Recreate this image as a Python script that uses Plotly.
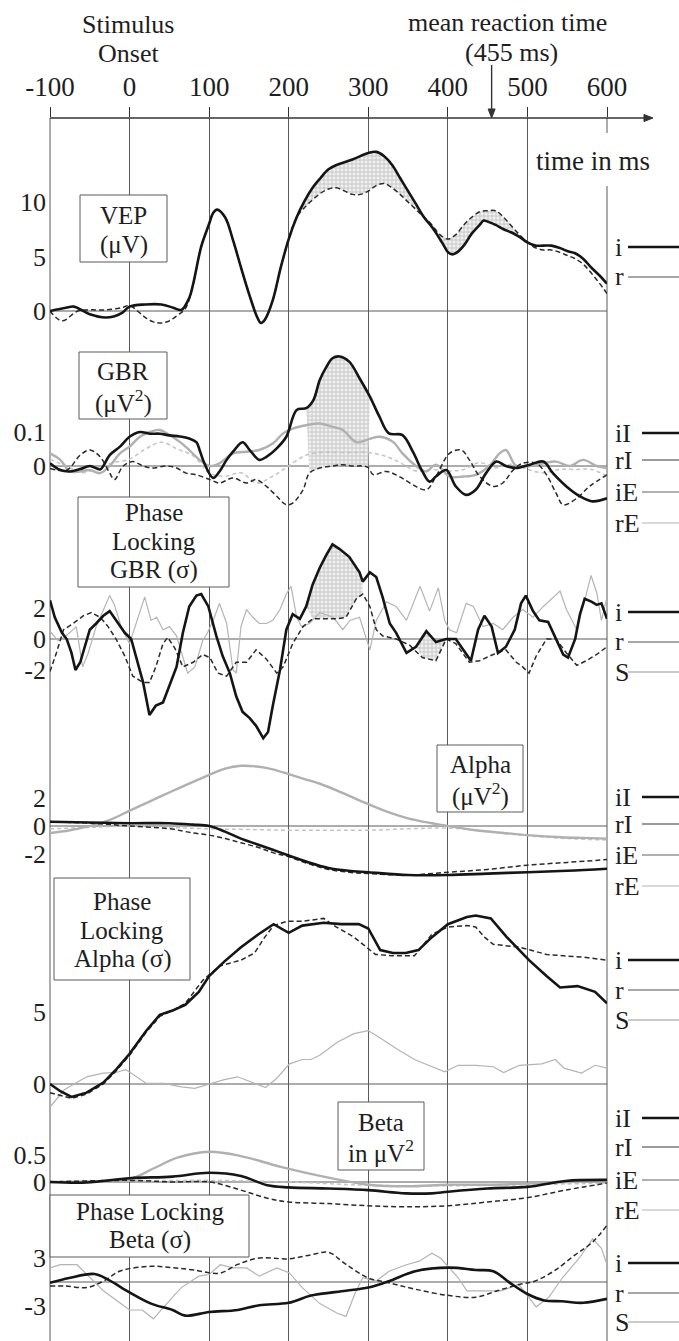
import plotly.graph_objects as go

# ======================= DATA =======================
time_ticks = [-100, 0, 100, 200, 300, 400, 500, 600]
time_tick_text = ["-100", "0", "100", "200", "300", "400", "500", "600"]
mean_rt = 455

# --- VEP (uV) ---
vep_i_t = [-100,-80,-70,-50,-30,-20,-10,0,20,40,55,65,75,80,90,100,105,110,120,130,
           140,150,160,165,170,180,190,200,210,220,230,240,250,260,280,300,310,320,330,340,
           350,360,370,380,390,395,400,405,410,420,430,440,445,450,460,470,480,490,500,510,
           520,530,540,550,560,570,580,590,600]
vep_i_v = [0,0.3,0.4,-0.3,-0.6,-0.5,-0.2,0.4,0.6,0.6,0.3,0.1,1.2,2.5,5.9,8.0,9.0,9.3,8.6,6.5,
           4.0,1.6,-0.5,-1.1,-0.8,1.0,4.0,6.6,8.6,10.1,11.3,12.2,13.0,13.4,13.9,14.5,14.6,14.2,13.4,12.2,
           11.0,9.8,8.6,7.7,6.6,6.0,5.4,5.2,5.3,6.0,7.1,7.9,8.3,8.2,7.9,7.5,7.2,6.8,6.3,6.0,
           6.0,6.0,5.8,5.5,5.3,4.8,4.0,3.3,2.5]
vep_r_t = [-100,-85,-65,-50,-30,-10,0,10,20,30,40,50,60,70,80,90,100,105,110,120,
           130,140,150,160,165,170,180,190,200,210,220,230,240,250,260,280,290,300,310,320,
           330,340,350,360,370,380,390,400,410,420,430,440,450,460,470,480,490,500,510,520,
           530,540,550,560,570,580,590,600]
vep_r_v = [0,-0.9,0,0.1,0.1,0.3,0.5,0.0,-0.6,-1.0,-1.1,-0.9,-0.4,0.2,2.5,5.9,8.0,9.0,9.3,8.6,
           6.5,4.0,1.6,-0.5,-1.1,-0.8,1.0,4.0,6.6,8.6,9.5,10.2,10.8,11.2,11.3,10.7,10.7,11.0,11.5,11.7,
           11.3,10.7,10.0,9.3,8.6,7.9,7.0,6.6,7.0,7.9,8.6,9.1,9.2,9.2,8.6,7.8,7.0,6.3,5.8,5.6,
           5.6,5.4,5.1,4.8,4.3,3.5,2.6,1.6]
vep_bands = [(210, 370), (370, 500)]

# --- GBR (uV^2) ---
gbr_iI_t = [-100,-87,-75,-62,-50,-37,-33,-25,-12,0,13,25,38,50,63,75,84,88,94,105,
            113,122,130,142,151,163,172,185,197,210,222,231,239,247,255,264,276,289,302,314,
            326,343,356,368,377,385,398,410,423,435,448,461,473,486,503,520,532,549,566,582,600]
gbr_iI_v = [0.008,-0.012,-0.016,-0.009,0,-0.01,0,0.032,0.057,0.086,0.1,0.095,0.095,0.09,0.087,0.081,0.07,0.047,0.008,-0.035,
            -0.016,0.018,0.042,0.07,0.047,0.018,0.027,0.052,0.086,0.165,0.17,0.194,0.253,0.29,0.317,0.322,0.307,0.258,0.204,0.145,
            0.096,0.091,0.042,-0.016,-0.046,-0.031,-0.012,-0.06,-0.085,-0.07,-0.021,0.013,0,-0.006,0.004,0.013,-0.021,-0.06,-0.089,-0.104,-0.095]
gbr_rI_t = [-100,-79,-62,-50,-37,-25,-19,-8,4,17,29,46,59,71,84,101,113,130,147,159,
            172,185,197,205,218,226,239,255,268,281,293,300,306,323,339,356,373,385,402,417,
            427,440,457,469,482,494,511,524,536,545,562,578,600]
gbr_rI_v = [-0.007,-0.012,0.032,0.047,0.027,-0.021,-0.04,0,0.013,0,-0.006,0,-0.006,-0.021,-0.026,-0.04,-0.05,-0.035,-0.05,-0.04,
            -0.06,-0.089,-0.114,-0.109,-0.07,-0.021,-0.006,0,0.004,0.0,0.0,-0.005,-0.025,-0.016,-0.031,-0.055,-0.07,-0.031,0.037,0.047,
            0.018,-0.031,-0.06,-0.05,-0.012,0.008,0.008,-0.026,-0.08,-0.114,-0.095,-0.06,-0.026]
gbr_iE_t = [-100,-87,-75,-62,-50,-37,-25,-12,0,13,25,38,50,63,75,88,101,113,130,147,
            163,180,193,205,222,239,255,268,285,302,314,331,343,360,373,385,402,419,435,452,
            465,473,486,503,520,536,553,570,587,600]
gbr_iE_v = [0.037,0.018,-0.016,-0.016,-0.012,-0.021,0,0.037,0.057,0.086,0.1,0.106,0.091,0.071,0.047,0.018,0,0.008,0.037,0.042,
            0.047,0.066,0.096,0.11,0.12,0.125,0.115,0.106,0.07,0.08,0.086,0.071,0.037,0,-0.016,0.004,-0.031,-0.031,-0.026,0,
            0.037,0.047,0,0,0.008,0.013,0,0.018,0,-0.006]
gbr_rE_t = [-100,-80,-60,-40,-20,0,20,40,60,80,100,120,140,160,180,200,220,240,260,280,
            300,320,340,360,380,400,420,440,460,480,500,520,540,560,580,600]
gbr_rE_v = [0.02,0.0,-0.02,-0.005,0.01,0.02,0.05,0.07,0.05,0.03,-0.02,-0.03,-0.02,-0.05,-0.03,0.0,0.03,0.04,0.04,0.04,
            0.04,0.03,0.01,-0.015,-0.01,-0.015,-0.01,0.01,-0.005,0.005,-0.01,-0.02,-0.01,-0.01,-0.01,-0.03]
gbr_bands = [(222, 302)]

# --- Phase locking GBR (sigma) ---
plg_i_t = [-100,-94,-85,-79,-73,-68,-62,-56,-50,-42,-33,-25,-17,-6,2,8,17,25,33,42,
           50,59,67,75,84,90,99,109,117,126,134,142,151,159,168,174,180,189,197,205,
           214,222,230,239,247,255,264,276,289,293,302,310,318,327,335,348,360,373,385,398,
           410,419,429,438,446,455,463,473,484,492,498,507,515,526,536,545,551,560,566,572,
           581,587,593,600]
plg_i_v = [2.5,1.4,0.4,0,-0.9,-2.0,-1.5,-0.5,0.6,1.0,1.5,1.8,1.2,0.4,0,-1.1,-2.8,-4.9,-4.3,-4.1,
           -3.0,-1.8,0.4,2.1,2.8,2.9,2.1,0.2,-1.1,-2.2,-3.7,-4.7,-5.1,-5.6,-6.4,-6.0,-4.3,-2.0,0.6,1.6,
           1.3,2.1,3.5,4.6,5.4,6.1,5.8,5.3,4.3,3.7,4.3,4.0,2.7,1.0,0.4,-0.9,-0.5,0.5,-0.2,0,
           0,-0.7,-1.4,0.6,1.5,0.8,-0.9,-0.5,0.6,2.3,2.8,1.8,1.2,1.1,0,-1.0,-1.2,0,1.6,2.6,
           2.4,2.2,2.3,1.3]
plg_r_t = [-100,-92,-83,-71,-58,-48,-37,-27,-17,-6,4,17,25,33,42,48,57,67,80,92,
           101,111,122,134,147,159,172,185,193,205,218,230,247,260,272,285,293,302,310,318,
           335,352,368,385,398,410,427,440,457,473,486,494,502,511,524,536,549,562,574,587,600]
plg_r_v = [-2.1,-0.9,0.6,1.0,1.5,1.7,1.4,0.8,0,-1.1,-2.4,-2.8,-2.8,-1.8,-0.3,0.1,-0.6,-1.8,-1.5,-1.0,
           -1.2,-2.2,-2.4,-1.5,-1.5,-0.7,-1.3,-2.2,-1.8,-0.3,0.8,1.3,1.3,1.3,1.4,2.6,2.9,2.1,0.6,0.2,
           0,-0.4,-1.2,-1.4,0,-0.3,-1.5,-1.4,-1.0,-0.7,-1.5,-1.8,-2.2,-1.1,0,0,-0.9,-1.7,-1.4,-1.0,-0.5]
plg_S_t = [-100,-90,-80,-67,-59,-52,-42,-34,-25,-19,-10,0,8,19,27,34,42,50,59,65,
           73,82,92,98,105,113,122,130,134,140,147,155,163,172,180,189,197,203,210,216,
           226,239,256,268,277,289,302,310,323,335,348,365,373,377,388,396,402,411,423,432,
           444,457,469,482,494,507,520,528,541,549,562,570,580,587,593,600]
plg_S_v = [0.5,-0.1,0.2,0.8,-1.8,-0.9,0.8,1.7,2.8,2.2,0.7,-0.3,1.0,2.7,1.2,1.4,0.6,0.8,0.2,-0.9,
           -2.2,-1.8,-0.1,0.4,1.2,2.3,1.0,-2.0,-2.2,0.8,1.9,1.4,1.0,1.0,1.2,1.9,2.9,3.4,1.4,0.8,
           1.0,1.7,1.4,0.6,1.2,1.4,-0.7,1.2,2.4,2.1,1.2,3.4,2.3,1.8,3.3,1.2,0.6,0.4,2.3,2.1,
           0.8,1.0,0.6,1.4,1.9,1.4,2.1,2.5,3.1,1.9,0.6,2.1,4.1,3.0,1.2,2.7]
plg_bands = [(222, 296), (356, 400)]

# --- Alpha power (uV^2) ---
alp_iI_t = [-100,-50,0,50,80,100,120,140,160,180,200,225,250,275,300,350,400,450,500,550,600]
alp_iI_v = [0.3,0.25,0.2,0.2,0.1,0.0,-0.4,-0.9,-1.3,-1.7,-2.1,-2.6,-3.0,-3.2,-3.3,-3.5,-3.5,-3.4,-3.3,-3.2,-3.05]
alp_rI_t = [-100,-50,0,50,80,100,120,140,160,180,200,225,250,275,300,350,400,450,500,550,600]
alp_rI_v = [0.3,0.2,0.0,-0.2,-0.5,-0.65,-0.9,-1.2,-1.5,-1.9,-2.2,-2.7,-3.1,-3.3,-3.4,-3.5,-3.3,-3.1,-2.8,-2.6,-2.4]
alp_iE_t = [-100,-75,-43,-22,0,27,54,82,100,120,140,160,180,200,220,240,266,290,320,350,
            380,400,435,470,500,543,570,600]
alp_iE_v = [-0.5,-0.3,0.1,0.5,1.1,1.8,2.5,3.2,3.65,4.1,4.3,4.25,4.05,3.7,3.35,3.0,2.4,1.8,1.1,0.55,
            0.2,0.0,-0.3,-0.5,-0.65,-0.8,-0.85,-0.9]
alp_rE_t = [-100,-50,0,50,100,150,200,250,300,350,400,450,500,550,600]
alp_rE_v = [-0.2,-0.1,0.0,-0.1,-0.2,-0.25,-0.3,-0.3,-0.3,-0.2,-0.15,-0.4,-0.7,-0.9,-1.0]

# --- Phase locking alpha (sigma) ---
pla_i_t = [-100,-87,-73,-54,-33,-17,0,21,38,54,70,87,100,119,140,162,181,200,217,244,
           266,288,300,315,331,347,363,380,400,424,435,454,474,502,524,541,563,585,600]
pla_i_v = [0,-0.5,-0.9,-0.6,0.1,1.0,2.1,3.7,4.8,5.1,5.5,6.4,7.5,8.5,9.5,10.4,11.1,10.5,11.0,11.2,
           11.1,11.1,10.8,9.3,9.1,9.1,9.3,10.2,11.1,11.6,11.7,11.5,10.2,8.6,7.5,6.7,6.8,6.4,5.6]
pla_r_t = [-100,-87,-73,-54,-33,-17,0,21,38,54,70,92,113,140,157,170,181,198,217,244,
           260,282,298,309,330,358,380,400,424,435,446,457,490,524,545,571,600]
pla_r_v = [-0.6,-0.8,-1.0,-0.7,0.0,0.9,2.0,3.6,4.7,5.1,5.6,7.2,8.2,8.6,9.1,10.2,11.0,11.3,11.3,11.5,
           10.9,10.2,9.5,9.0,8.9,8.9,10.4,10.9,11.0,10.9,10.2,9.7,9.5,9.0,8.9,8.8,8.6]
pla_S_t = [-100,-82,-54,-33,-17,-5,6,21,43,65,82,100,119,136,152,171,185,201,217,228,
           239,261,282,300,315,337,358,380,396,413,435,457,470,490,518,535,546,568,585,600]
pla_S_v = [-1.6,-0.4,0.5,0.76,0.8,1.0,0.6,0.04,0.04,-0.2,-0.3,0,0.3,0.5,0.15,-0.24,0.4,1.4,1.7,1.7,
           2.0,2.9,3.5,3.7,3.2,2.4,1.7,1.2,0.85,1.3,1.3,1.2,0.8,1.3,1.4,1.7,1.1,0.76,1.3,1.1]

# --- Beta power (uV^2) ---
bet_iI_t = [-100,-54,0,54,100,140,173,200,250,300,347,380,400,450,500,548,600]
bet_iI_v = [0.0,-0.01,0.07,0.1,0.17,0.11,-0.06,-0.1,-0.12,-0.15,-0.21,-0.21,-0.18,-0.12,-0.09,0.02,0.04]
bet_rI_t = [-100,0,54,100,140,173,200,250,300,347,400,450,500,548,600]
bet_rI_v = [0.0,0.03,0.0,0.0,-0.15,-0.3,-0.37,-0.4,-0.44,-0.46,-0.44,-0.37,-0.29,-0.15,-0.02]
bet_iE_t = [-100,-54,0,30,60,100,140,190,250,300,350,400,450,500,550,600]
bet_iE_v = [0.0,0.01,0.05,0.25,0.45,0.56,0.48,0.28,0.08,-0.05,-0.08,-0.05,-0.05,-0.03,0.0,0.01]
bet_rE_t = [-100,0,100,200,300,400,500,600]
bet_rE_v = [0.0,0.02,0.03,0.0,-0.06,-0.07,-0.05,-0.02]

# --- Phase locking beta (sigma) ---
plb_i_t = [-100,-76,-44,-27,0,27,54,70,100,136,163,200,228,272,300,326,359,402,435,457,
           478,500,521,543,570,600]
plb_i_v = [-0.1,0.5,1.0,0.3,-1.3,-2.7,-3.5,-4.2,-3.75,-3.5,-2.9,-2.6,-1.7,-1.1,-0.7,0.1,1.35,1.8,1.5,1.35,
           -0.1,-1.5,-2.3,-2.4,-2.6,-2.1]
plb_r_t = [-100,-81,-54,-33,-11,27,54,81,113,136,163,200,228,250,272,300,326,359,402,435,
           462,490,509,533,560,582,600]
plb_r_v = [-0.5,-0.5,-0.7,0.1,1.4,1.96,1.8,1.5,1.1,2.2,3.0,2.9,3.4,3.7,2.2,0.5,-0.1,-0.9,-1.7,-1.9,
           -1.1,-0.3,0.1,1.35,3.4,5.0,7.1]
plb_S_t = [-100,-87,-66,-49,-33,-11,0,16,30,43,65,87,100,114,130,147,163,185,201,217,
           239,261,272,283,293,310,326,348,364,380,391,413,424,446,467,489,511,527,544,565,
           582,593,600]
plb_S_v = [1.76,2.16,2.16,0.53,-1.1,-2.7,-3.5,-3.5,-4.6,-3.1,-0.7,0.73,0.94,2.16,1.76,1.76,0.73,1.76,1.14,-0.7,
           -2.7,-3.9,-4.3,-1.5,0.53,0.12,1.35,2.16,2.6,3.6,2.97,0.53,-1.1,-1.1,-1.1,-0.29,-3.1,-1.9,0.53,2.97,
           5.4,4.2,2.16]

# axis tick values / labels per panel
vep_ticks, vep_tick_text = [0, 5, 10], ["0", "5", "10"]
gbr_ticks, gbr_tick_text = [0, 0.1], ["0", "0.1"]
plg_ticks, plg_tick_text = [-2, 0, 2], ["-2", "0", "2"]
alp_ticks, alp_tick_text = [-2, 0, 2], ["-2", "0", "2"]
pla_ticks, pla_tick_text = [0, 5], ["0", "5"]
bet_ticks, bet_tick_text = [0, 0.5], ["0", "0.5"]
plb_ticks, plb_tick_text = [-3, 3], ["-3", "3"]

legend_2 = ["i", "r"]
legend_4 = ["iI", "rI", "iE", "rE"]
legend_3 = ["i", "r", "S"]

# ======================= LAYOUT HELPERS =======================
W, H = 679, 1341
ML, MR, MT, MB = 50, 72, 118, 0
PW = W - ML - MR
PH = H - MT - MB
SERIF = "Liberation Serif"
TXT = "#1e1e1e"
GRID = "#5a5a5a"
AXC = "#333333"

def px(x):
    return (x - ML) / PW

def py(y):
    return 1 - (y - MT) / PH

def axis_range(a, b):
    (va, pa), (vb, pb) = a, b
    k = (pb - pa) / (vb - va)
    return [va + (H - MB - pa) / k, va + (MT - pa) / k]

STY = {
    "i":  dict(color="#151515", width=2.6),
    "iI": dict(color="#151515", width=2.6),
    "r":  dict(color="#2a2a2a", width=1.5, dash="5px,3px"),
    "rI": dict(color="#2a2a2a", width=1.5, dash="5px,3px"),
    "iE": dict(color="#b0b0b0", width=2.4),
    "rE": dict(color="#c4c4c4", width=1.5, dash="4px,3px"),
    "S":  dict(color="#b4b4b4", width=1.2),
}
LEG = {
    "i":  dict(color="#151515", width=2.6),
    "iI": dict(color="#151515", width=2.6),
    "r":  dict(color="#8a8a8a", width=1.3),
    "rI": dict(color="#7a7a7a", width=1.3),
    "iE": dict(color="#b0b0b0", width=2.2),
    "rE": dict(color="#cccccc", width=1.3),
    "S":  dict(color="#b8b8b8", width=1.3),
}

panels = [
    ("y",  (0, 311),  (10, 202),  vep_ticks, vep_tick_text),
    ("y2", (0, 466),  (0.1, 432), gbr_ticks, gbr_tick_text),
    ("y3", (0, 639),  (2, 608),   plg_ticks, plg_tick_text),
    ("y4", (0, 826),  (2, 798),   alp_ticks, alp_tick_text),
    ("y5", (0, 1084), (5, 1012),  pla_ticks, pla_tick_text),
    ("y6", (0, 1182), (0.5, 1155), bet_ticks, bet_tick_text),
    ("y7", (0, 1282), (3, 1258),  plb_ticks, plb_tick_text),
]

fig = go.Figure()

def band(t1, v1, t2, v2, a, b):
    xs = [t for t in t1 if a <= t <= b]
    ys = [v for t, v in zip(t1, v1) if a <= t <= b]
    xr = [t for t in t2 if a <= t <= b][::-1]
    yr = [v for t, v in zip(t2, v2) if a <= t <= b][::-1]
    return xs + xr, ys + yr

def add_band(t1, v1, t2, v2, a, b, yax):
    xs, ys = band(t1, v1, t2, v2, a, b)
    fig.add_trace(go.Scatter(
        x=xs, y=ys, yaxis=yax, mode="lines", fill="toself",
        line=dict(width=0), fillcolor="#e4e4e4",
        fillpattern=dict(shape="+", size=4, solidity=0.35, fgcolor="#8c8c8c", bgcolor="#f0f0f0"),
        hoverinfo="skip", showlegend=False))

def add_line(t, v, key, yax, shape="linear"):
    fig.add_trace(go.Scatter(x=t, y=v, yaxis=yax, mode="lines",
                             line=dict(shape=shape, **STY[key]),
                             hoverinfo="skip", showlegend=False))

for a, b in vep_bands:
    add_band(vep_i_t, vep_i_v, vep_r_t, vep_r_v, a, b, "y")
for a, b in gbr_bands:
    add_band(gbr_iI_t, gbr_iI_v, gbr_rI_t, gbr_rI_v, a, b, "y2")
for a, b in plg_bands:
    add_band(plg_i_t, plg_i_v, plg_r_t, plg_r_v, a, b, "y3")

add_line(vep_r_t, vep_r_v, "r", "y", "spline")
add_line(vep_i_t, vep_i_v, "i", "y", "spline")

add_line(gbr_rE_t, gbr_rE_v, "rE", "y2", "spline")
add_line(gbr_iE_t, gbr_iE_v, "iE", "y2", "spline")
add_line(gbr_rI_t, gbr_rI_v, "rI", "y2", "spline")
add_line(gbr_iI_t, gbr_iI_v, "iI", "y2", "spline")

add_line(plg_S_t, plg_S_v, "S", "y3")
add_line(plg_r_t, plg_r_v, "r", "y3")
add_line(plg_i_t, plg_i_v, "i", "y3")

add_line(alp_rE_t, alp_rE_v, "rE", "y4", "spline")
add_line(alp_iE_t, alp_iE_v, "iE", "y4", "spline")
add_line(alp_rI_t, alp_rI_v, "rI", "y4", "spline")
add_line(alp_iI_t, alp_iI_v, "iI", "y4", "spline")

add_line(pla_S_t, pla_S_v, "S", "y5")
add_line(pla_r_t, pla_r_v, "r", "y5")
add_line(pla_i_t, pla_i_v, "i", "y5")

add_line(bet_rE_t, bet_rE_v, "rE", "y6", "spline")
add_line(bet_iE_t, bet_iE_v, "iE", "y6", "spline")
add_line(bet_rI_t, bet_rI_v, "rI", "y6", "spline")
add_line(bet_iI_t, bet_iI_v, "iI", "y6", "spline")

add_line(plb_S_t, plb_S_v, "S", "y7")
add_line(plb_r_t, plb_r_v, "r", "y7", "spline")
add_line(plb_i_t, plb_i_v, "i", "y7", "spline")

# ---- axes ----
layout = dict(
    width=W, height=H,
    margin=dict(l=ML, r=MR, t=MT, b=MB, pad=0),
    paper_bgcolor="white", plot_bgcolor="white",
    showlegend=False,
    font=dict(family=SERIF, color=TXT),
    xaxis=dict(range=[time_ticks[0], time_ticks[-1]], side="top",
               tickvals=time_ticks, ticktext=time_tick_text,
               ticks="outside", ticklen=10, tickcolor=AXC, tickwidth=1,
               showgrid=True, gridcolor=GRID, gridwidth=1,
               zeroline=False, showline=False,
               tickfont=dict(family=SERIF, size=27, color=TXT), fixedrange=True),
)
shapes = []
for name, a, b, tv, tt in panels:
    key = "yaxis" if name == "y" else "yaxis" + name[1:]
    ax = dict(range=axis_range(a, b), tickvals=tv, ticktext=tt,
              showgrid=False, zeroline=False, showline=False, ticks="",
              tickfont=dict(family=SERIF, size=26, color=TXT), fixedrange=True,
              ticklabelstandoff=3)
    if name != "y":
        ax.update(overlaying="y", anchor="x", side="left")
    layout[key] = ax
    shapes.append(dict(type="line", xref="x", yref=name,
                       x0=time_ticks[0], x1=time_ticks[-1], y0=0, y1=0,
                       line=dict(color=GRID, width=1), layer="below"))

for xp in (0, 1):
    shapes.append(dict(type="line", xref="paper", yref="paper", x0=xp, x1=xp, y0=0, y1=1,
                       line=dict(color=GRID, width=1), layer="below"))
# gap in the right border behind "time in ms"
shapes.append(dict(type="rect", xref="paper", yref="paper",
                   x0=px(601), x1=px(613), y0=py(186), y1=py(133),
                   fillcolor="white", line=dict(width=0), layer="above"))

# time axis line with arrow head
AX_END = 653
shapes.append(dict(type="line", xref="paper", yref="paper",
                   x0=0, x1=px(AX_END - 4), y0=1, y1=1,
                   line=dict(color=AXC, width=1.4), layer="above"))
shapes.append(dict(type="path", xref="paper", yref="paper",
                   path="M %f,%f L %f,%f L %f,%f Z" % (px(AX_END), py(MT), px(AX_END - 9), py(MT - 3.5),
                                                      px(AX_END - 9), py(MT + 3.5)),
                   fillcolor=AXC, line=dict(color=AXC, width=1), layer="above"))
# reaction-time arrow (drawn at the mean reaction time on the time axis)
HW = 3.5 / (PW / (time_ticks[-1] - time_ticks[0]))   # half width of head, in ms
shapes.append(dict(type="line", xref="x", yref="paper", x0=mean_rt, x1=mean_rt,
                   y0=py(65), y1=py(MT - 6), line=dict(color=AXC, width=1.4), layer="above"))
shapes.append(dict(type="path", xref="x", yref="paper",
                   path="M %f,%f L %f,%f L %f,%f Z" % (mean_rt, py(MT), mean_rt - HW, py(MT - 9),
                                                      mean_rt + HW, py(MT - 9)),
                   fillcolor=AXC, line=dict(color=AXC, width=1), layer="above"))

annotations = []

def text(t, x, y, size=25, xanchor="center"):
    annotations.append(dict(text=t, xref="paper", yref="paper", x=px(x), y=py(y),
                            xanchor=xanchor, yanchor="middle", showarrow=False, align="center",
                            borderpad=0,
                            font=dict(family=SERIF, size=size, color=TXT)))

def box(lines, x0, x1, y0, y1, size=25):
    shapes.append(dict(type="rect", xref="paper", yref="paper",
                       x0=px(x0), x1=px(x1), y0=py(y1), y1=py(y0),
                       fillcolor="white", line=dict(color=GRID, width=1), layer="above"))
    for t, yc in lines:
        text(t, (x0 + x1) / 2, yc, size=size)

text("Stimulus", 128, 24, size=26)
text("Onset", 128, 53, size=26)
text("mean reaction time", 507, 23, size=26)
text("(" + str(mean_rt) + " ms)", 511, 52, size=26)
text("time in ms", 593, 161, size=27)

MU, SIG = "\u03bc", "\u03c3"
box([("VEP", 215), ("(" + MU + "V)", 245)], 80, 167, 195, 262)
box([("GBR", 371), ("(" + MU + "V<sup>2</sup>)", 401)], 79, 167, 352, 419)
box([("Phase", 512), ("Locking", 541), ("GBR (" + SIG + ")", 570)], 78, 229, 497, 587)
box([("Alpha", 764), ("(" + MU + "V<sup>2</sup>)", 794)], 437, 523, 745, 812)
box([("Phase", 901), ("Locking", 930), ("Alpha (" + SIG + ")", 959)], 54, 190, 878, 980)
box([("Beta", 1122), ("in " + MU + "V<sup>2</sup>", 1151)], 338, 424, 1102, 1170)
box([("Phase Locking", 1211), ("Beta (" + SIG + ")", 1240)], 50, 249, 1195, 1257)

legend_rows = [
    (legend_2, [247, 277]),
    (legend_4, [433, 460, 492, 523]),
    (legend_3, [612, 642, 672]),
    (legend_4, [797, 824, 855, 886]),
    (legend_3, [960, 990, 1020]),
    (legend_4, [1118, 1147, 1180, 1210]),
    (legend_3, [1263, 1293, 1322]),
]
for names, ys in legend_rows:
    for nm, yy in zip(names, ys):
        text(nm, 614, yy, size=26, xanchor="left")
        x_start = 628 if len(nm) == 1 else 642
        shapes.append(dict(type="line", xref="paper", yref="paper",
                           x0=px(x_start), x1=px(W), y0=py(yy), y1=py(yy),
                           line=LEG[nm]))

layout["shapes"] = shapes
layout["annotations"] = annotations
fig.update_layout(**layout)
fig.write_html("out.html")
